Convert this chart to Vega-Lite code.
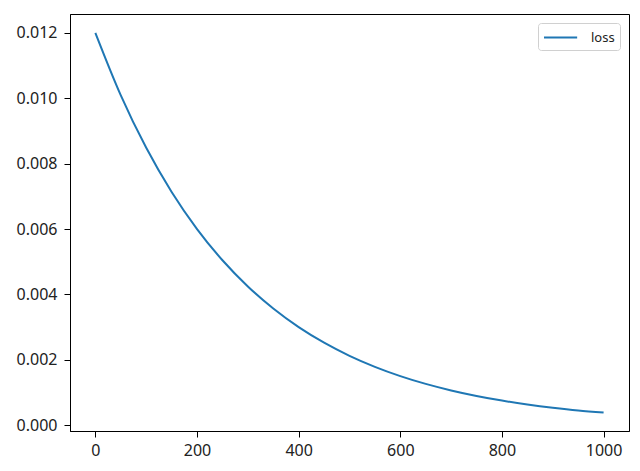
{
  "$schema": "https://vega.github.io/schema/vega-lite/v6.json",
  "autosize": {"type": "none"},
  "width": 559,
  "height": 417,
  "padding": {"left": 70, "top": 14, "right": 11, "bottom": 40},
  "background": "white",
  "config": {
    "font": "Noto Sans",
    "view": {"stroke": "black", "strokeWidth": 1},
    "axis": {
      "grid": false,
      "domainColor": "black",
      "tickColor": "black",
      "tickSize": 6,
      "labelFontSize": 16,
      "labelColor": "#222",
      "labelPadding": 5,
      "title": null
    }
  },
  "data": {
    "values": [
      {"epoch": 0, "loss": 0.012, "series": "loss"},
      {"epoch": 50, "loss": 0.010091, "series": "loss"},
      {"epoch": 100, "loss": 0.008485, "series": "loss"},
      {"epoch": 150, "loss": 0.007135, "series": "loss"},
      {"epoch": 200, "loss": 0.006, "series": "loss"},
      {"epoch": 250, "loss": 0.005045, "series": "loss"},
      {"epoch": 300, "loss": 0.004243, "series": "loss"},
      {"epoch": 350, "loss": 0.003568, "series": "loss"},
      {"epoch": 400, "loss": 0.003, "series": "loss"},
      {"epoch": 450, "loss": 0.002523, "series": "loss"},
      {"epoch": 500, "loss": 0.002121, "series": "loss"},
      {"epoch": 550, "loss": 0.001784, "series": "loss"},
      {"epoch": 600, "loss": 0.0015, "series": "loss"},
      {"epoch": 650, "loss": 0.001261, "series": "loss"},
      {"epoch": 700, "loss": 0.001061, "series": "loss"},
      {"epoch": 750, "loss": 0.000892, "series": "loss"},
      {"epoch": 800, "loss": 0.00075, "series": "loss"},
      {"epoch": 850, "loss": 0.000631, "series": "loss"},
      {"epoch": 900, "loss": 0.00053, "series": "loss"},
      {"epoch": 950, "loss": 0.000446, "series": "loss"},
      {"epoch": 1000, "loss": 0.000385, "series": "loss"}
    ]
  },
  "mark": {"type": "line", "strokeWidth": 2, "interpolate": "monotone"},
  "encoding": {
    "x": {
      "field": "epoch",
      "type": "quantitative",
      "scale": {"domain": [-50, 1050], "nice": false, "zero": false},
      "axis": {"values": [0, 200, 400, 600, 800, 1000], "format": "d"}
    },
    "y": {
      "field": "loss",
      "type": "quantitative",
      "scale": {"domain": [-0.00018, 0.01258], "nice": false, "zero": false},
      "axis": {"values": [0, 0.002, 0.004, 0.006, 0.008, 0.01, 0.012], "format": ".3f", "labelPadding": 7}
    },
    "color": {
      "field": "series",
      "type": "nominal",
      "scale": {"range": ["#1f77b4"]},
      "legend": {
        "title": null,
        "orient": "top-right",
        "offset": 9,
        "symbolType": "M-1,0L2.9,0",
        "symbolSize": 289,
        "symbolStrokeWidth": 2,
        "labelFontSize": 13,
        "labelColor": "#222",
        "labelOffset": 29,
        "padding": 5,
        "fillColor": "white",
        "strokeColor": "#d0d0d0",
        "cornerRadius": 3
      }
    }
  }
}
